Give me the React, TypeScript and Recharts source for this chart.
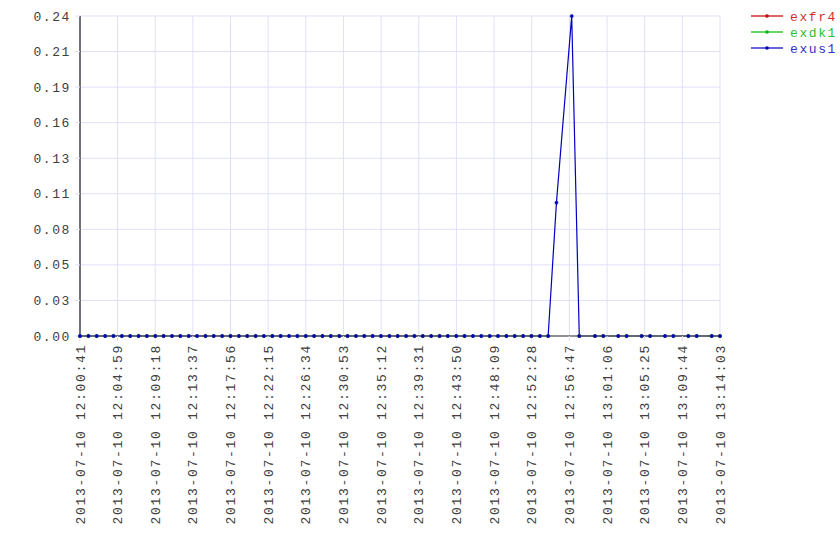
import React from "react";
import { LineChart, Line, XAxis, YAxis, CartesianGrid, Legend } from "recharts";

const datePrefix = "2013-07-10";

const times = [
  "12:00:41", "12:01:39", "12:02:36", "12:03:34", "12:04:31", "12:05:29", "12:06:26", "12:07:24",
  "12:08:21", "12:09:19", "12:10:16", "12:11:14", "12:12:11", "12:13:09", "12:14:06", "12:15:04",
  "12:16:01", "12:16:59", "12:17:56", "12:18:54", "12:19:51", "12:20:49", "12:21:46", "12:22:44",
  "12:23:41", "12:24:39", "12:25:36", "12:26:34", "12:27:31", "12:28:29", "12:29:26", "12:30:24",
  "12:31:21", "12:32:19", "12:33:16", "12:34:14", "12:35:11", "12:36:09", "12:37:06", "12:38:04",
  "12:39:01", "12:39:59", "12:40:56", "12:41:54", "12:42:51", "12:43:49", "12:44:46", "12:45:44",
  "12:46:41", "12:47:39", "12:48:36", "12:49:34", "12:50:31", "12:51:29", "12:52:26", "12:53:24",
  "12:54:21", "12:55:18", "12:57:03", "12:57:55", "12:59:43", "13:00:40", "13:02:23", "13:03:21",
  "13:05:04", "13:06:02", "13:07:45", "13:08:42", "13:10:25", "13:11:23", "13:13:06", "13:14:03",
];

const exfr4 = [
  0, 0, 0, 0, 0, 0, 0, 0, 0, 0, 0, 0, 0, 0, 0, 0, 0, 0, 0, 0, 0, 0, 0, 0,
  0, 0, 0, 0, 0, 0, 0, 0, 0, 0, 0, 0, 0, 0, 0, 0, 0, 0, 0, 0, 0, 0, 0, 0,
  0, 0, 0, 0, 0, 0, 0, 0, 0, null, null, 0, 0, 0, 0, 0, 0, 0, 0, 0, 0, 0, 0, 0,
];

const exdk1 = [
  0, 0, 0, 0, 0, 0, 0, 0, 0, 0, 0, 0, 0, 0, 0, 0, 0, 0, 0, 0, 0, 0, 0, 0,
  0, 0, 0, 0, 0, 0, 0, 0, 0, 0, 0, 0, 0, 0, 0, 0, 0, 0, 0, 0, 0, 0, 0, 0,
  0, 0, 0, 0, 0, 0, 0, 0, 0, null, null, 0, 0, 0, 0, 0, 0, 0, 0, 0, 0, 0, 0, 0,
];

const exus1 = [
  0, 0, 0, 0, 0, 0, 0, 0, 0, 0, 0, 0, 0, 0, 0, 0, 0, 0, 0, 0, 0, 0, 0, 0,
  0, 0, 0, 0, 0, 0, 0, 0, 0, 0, 0, 0, 0, 0, 0, 0, 0, 0, 0, 0, 0, 0, 0, 0,
  0, 0, 0, 0, 0, 0, 0, 0, 0, 0.1, 0.24, 0, 0, 0, 0, 0, 0, 0, 0, 0, 0, 0, 0, 0,
];

const xTickLabels = [
  "12:00:41", "12:04:59", "12:09:18", "12:13:37", "12:17:56", "12:22:15",
  "12:26:34", "12:30:53", "12:35:12", "12:39:31", "12:43:50", "12:48:09",
  "12:52:28", "12:56:47", "13:01:06", "13:05:25", "13:09:44", "13:14:03",
];

const yTicks = [0, 0.02667, 0.05333, 0.08, 0.10667, 0.13333, 0.16, 0.18667, 0.21333, 0.24];

const seriesNames = ["exfr4", "exdk1", "exus1"];
const seriesColors = ["#cc0000", "#00bb00", "#0000c0"];
const legendTextColors = ["#d03030", "#30c030", "#3030c8"];

const toSec = (s: string) => {
  const [h, m, sec] = s.split(":").map(Number);
  return h * 3600 + m * 60 + sec;
};

const data = times.map((t, i) => ({
  t: toSec(t),
  exfr4: exfr4[i],
  exdk1: exdk1[i],
  exus1: exus1[i],
}));

const xTicks = xTickLabels.map(toSec);
const labelBySec: Record<number, string> = {};
xTickLabels.forEach((l) => (labelBySec[toSec(l)] = l));

const FONT = "'Liberation Mono', 'DejaVu Sans Mono', monospace";
const GRID = "#e0e0fa";
const TEXT = "#404040";

const XTick = (props: any) => {
  const { x, y, payload } = props;
  return (
    <text
      transform={`translate(${x},${y}) rotate(-90)`}
      x={0}
      y={0}
      dy="0.35em"
      textAnchor="end"
      fontFamily={FONT}
      fontSize={13}
      letterSpacing={1.7}
      fill={TEXT}
    >
      {`${datePrefix} ${labelBySec[payload.value] ?? ""}`}
    </text>
  );
};

const YTick = (props: any) => {
  const { x, y, payload } = props;
  return (
    <text
      x={x}
      y={y}
      dy="0.35em"
      textAnchor="end"
      fontFamily={FONT}
      fontSize={13}
      letterSpacing={1.6}
      fill={TEXT}
    >
      {Number(payload.value).toFixed(2)}
    </text>
  );
};

const renderLegend = () => (
  <svg width={90} height={60}>
    {seriesNames.map((n, i) => (
      <g key={n}>
        <line x1={1} x2={33} y1={8 + i * 16} y2={8 + i * 16} stroke={seriesColors[i]} strokeOpacity={0.6} strokeWidth={2} />
        <circle cx={17} cy={8 + i * 16} r={1.8} fill={seriesColors[i]} />
        <text
          x={40}
          y={8 + i * 16}
          dy="0.35em"
          fontFamily={FONT}
          fontSize={13}
          letterSpacing={1.6}
          fill={legendTextColors[i]}
        >
          {n}
        </text>
      </g>
    ))}
  </svg>
);

export default function App() {
  return (
    <div style={{ position: "absolute", left: 0, top: 0, width: 840, height: 560, background: "#fff" }}>
      <LineChart
        width={840}
        height={560}
        data={data}
        margin={{ top: 16, right: 120, bottom: 0, left: 0 }}
      >
        <CartesianGrid stroke={GRID} strokeWidth={1} />
        <XAxis
          dataKey="t"
          type="number"
          domain={[xTicks[0], xTicks[xTicks.length - 1]]}
          ticks={xTicks}
          interval={0}
          height={224}
          tick={<XTick />}
          tickSize={5}
          tickMargin={3}
          tickLine={{ stroke: GRID }}
          axisLine={{ stroke: "#707070", strokeWidth: 1.5 }}
        />
        <YAxis
          type="number"
          domain={[0, 0.24]}
          ticks={yTicks}
          interval={0}
          width={80}
          tick={<YTick />}
          tickSize={5}
          tickMargin={4}
          tickLine={{ stroke: GRID }}
          axisLine={{ stroke: "#707078", strokeWidth: 2 }}
        />
        <Legend
          layout="vertical"
          align="center"
          verticalAlign="middle"
          content={renderLegend}
          wrapperStyle={{ position: "absolute", left: 750, top: 8, width: 90, height: 60 }}
        />
        {seriesNames.map((n, i) => (
          <Line
            key={n}
            type="linear"
            dataKey={n}
            stroke={seriesColors[i]}
            strokeWidth={1.2}
            dot={{ r: 1.6, fill: seriesColors[i], stroke: seriesColors[i], strokeWidth: 0.5 }}
            activeDot={false}
            isAnimationActive={false}
          />
        ))}
      </LineChart>
    </div>
  );
}
